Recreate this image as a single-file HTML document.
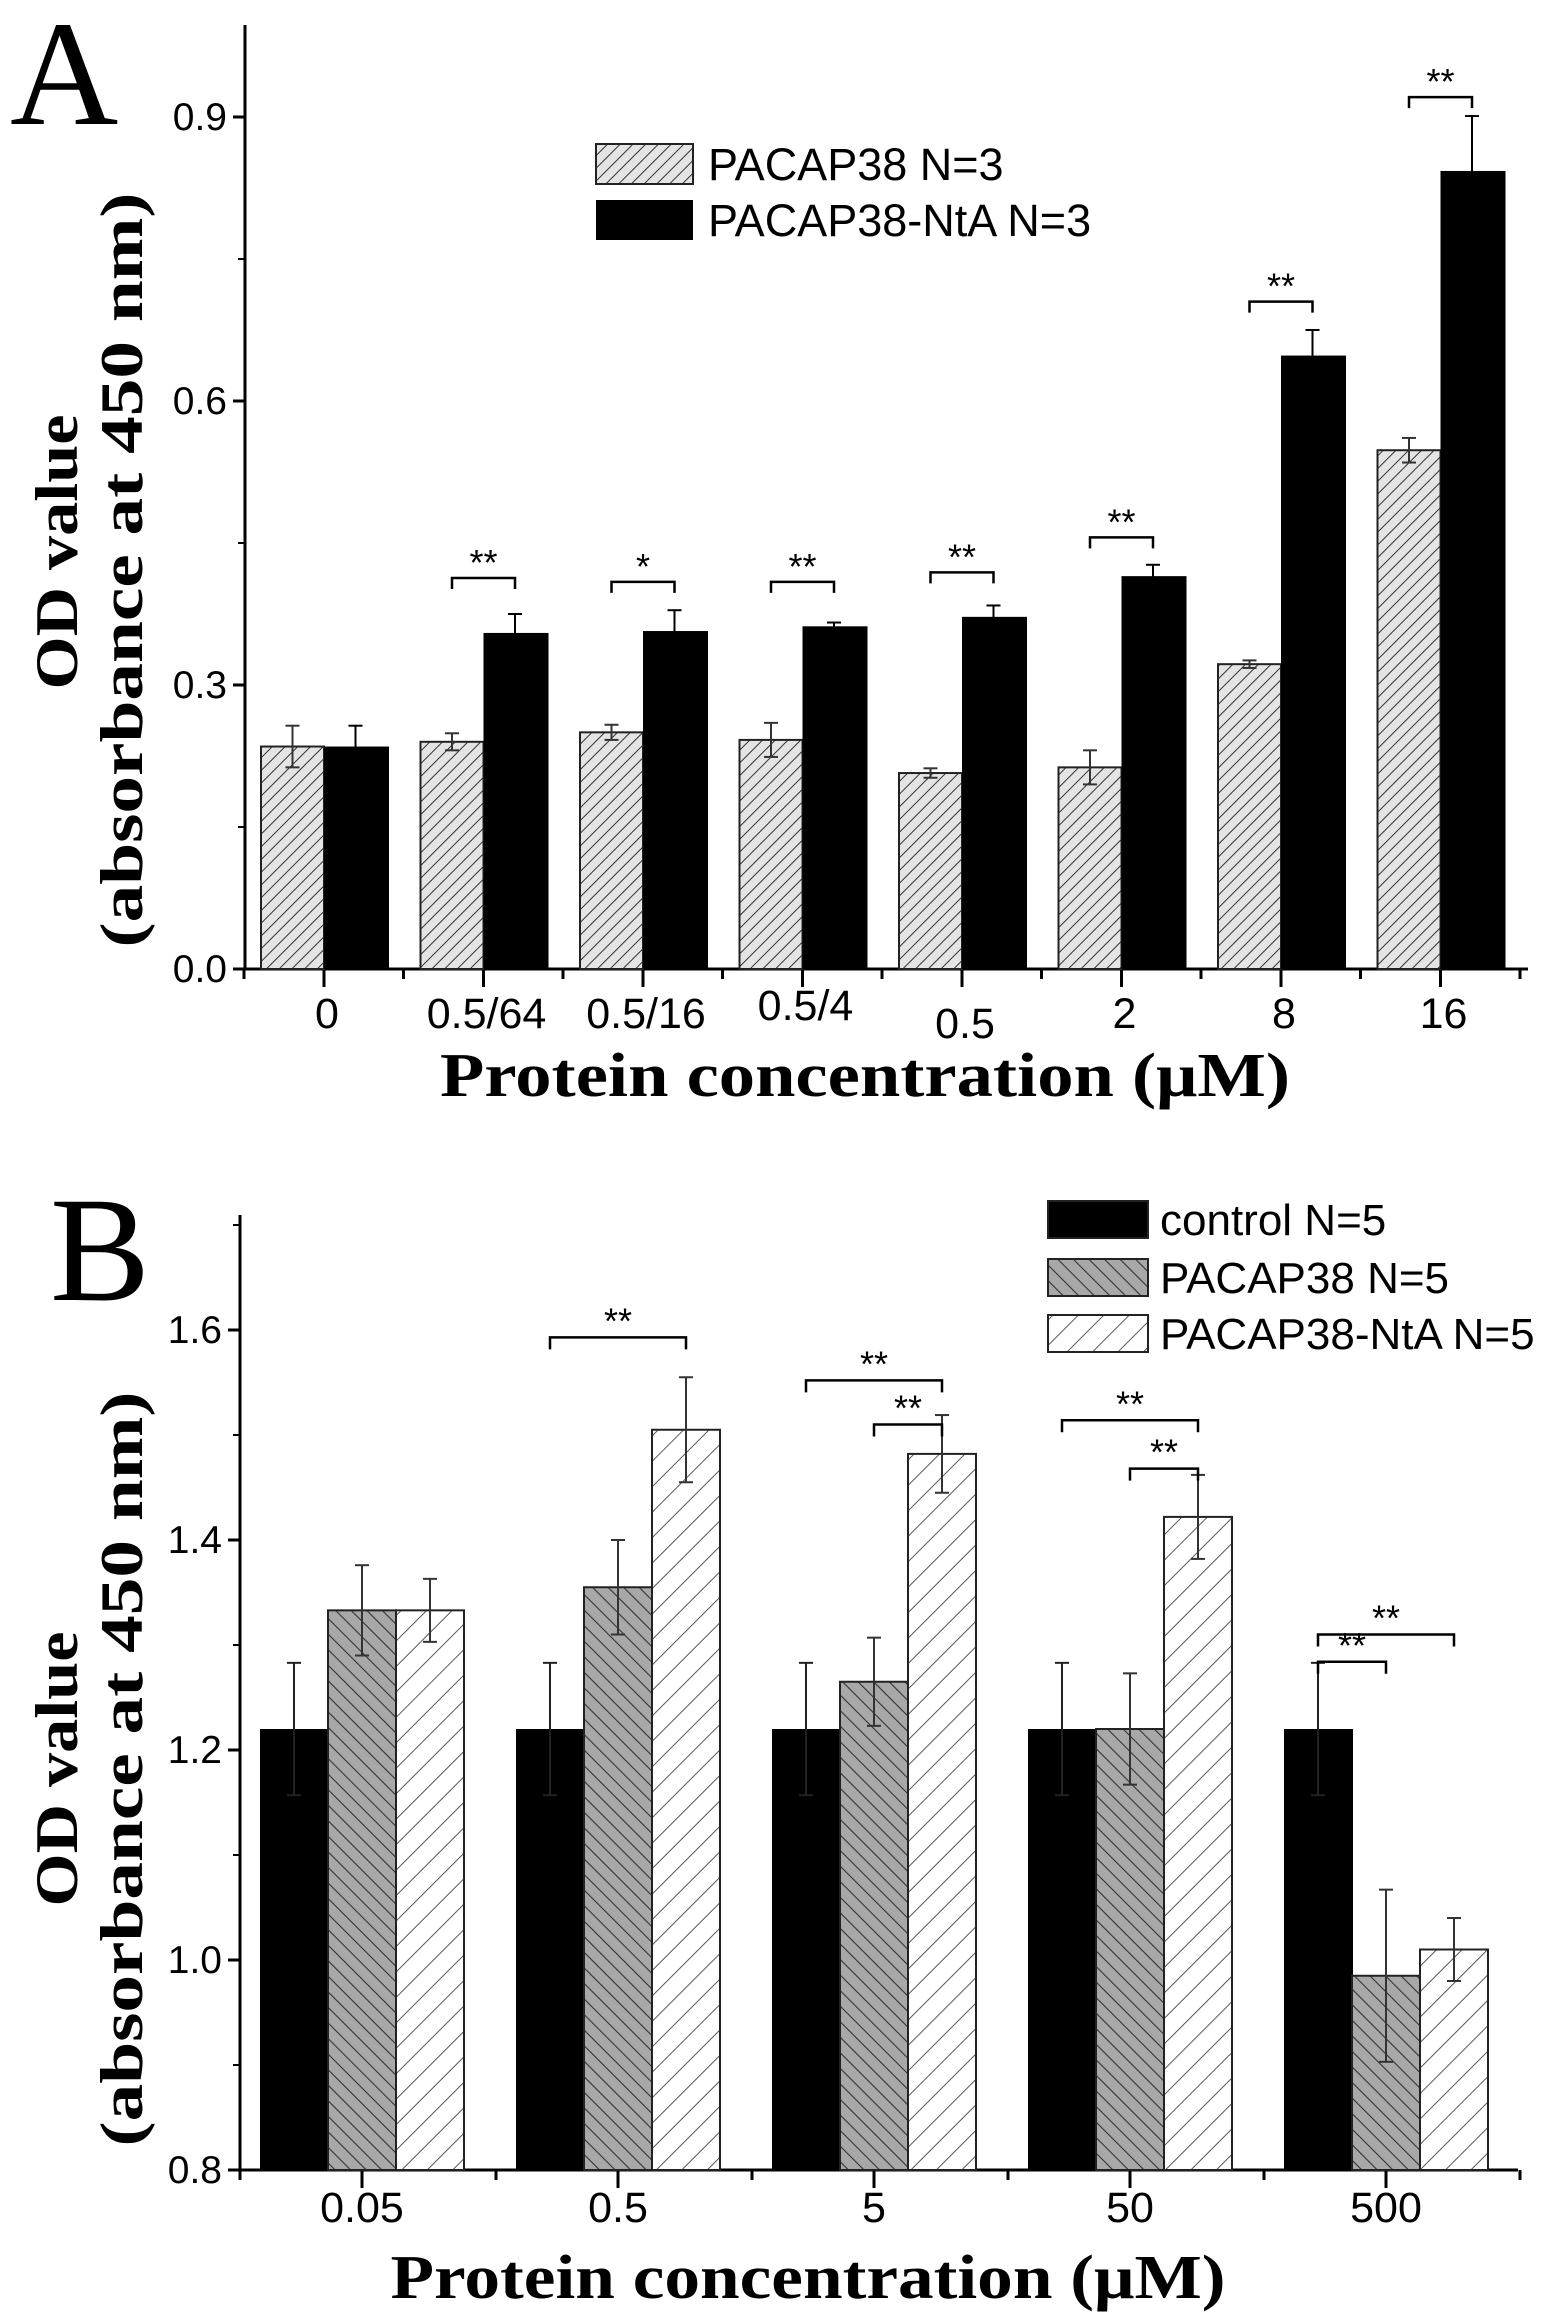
<!DOCTYPE html>
<html><head><meta charset="utf-8"><style>
html,body{margin:0;padding:0;background:#fff}
svg{display:block}
.t{font-family:"Liberation Sans",Arial,sans-serif}
.s{font-family:"Liberation Serif","Times New Roman",serif;font-weight:bold}
</style></head><body>
<svg id="fig" width="1559" height="2319" viewBox="0 0 1559 2319" xmlns="http://www.w3.org/2000/svg">
<defs>
<pattern id="hA" patternUnits="userSpaceOnUse" width="9" height="9" patternTransform="rotate(45)">
<rect width="9" height="9" fill="#e4e4e4"/><line x1="0" y1="0" x2="0" y2="9" stroke="#333" stroke-width="2"/></pattern>
<pattern id="hGray" patternUnits="userSpaceOnUse" width="11" height="11" patternTransform="rotate(-45)">
<rect width="11" height="11" fill="#a8a8a8"/><line x1="0" y1="0" x2="0" y2="11" stroke="#333" stroke-width="2.2"/></pattern>
<pattern id="hWhite" patternUnits="userSpaceOnUse" width="18" height="18" patternTransform="rotate(45)">
<rect width="18" height="18" fill="#fff"/><line x1="0" y1="0" x2="0" y2="18" stroke="#444" stroke-width="1.8"/></pattern>
</defs>
<g id="pa"></g>
<g id="pb"></g>
</svg>
<script>
// Panel A data
const catsA = ["0","0.5/64","0.5/16","0.5/4","0.5","2","8","16"];
const pacapA = [0.235,0.240,0.250,0.242,0.207,0.213,0.322,0.548];
const pacapErrA = [0.022,0.009,0.008,0.018,0.005,0.018,0.004,0.013];
const ntaA = [0.235,0.355,0.357,0.362,0.372,0.415,0.648,0.843];
const ntaErrA = [0.022,0.020,0.022,0.004,0.012,0.012,0.027,0.058];
const ticksA = [0.0,0.3,0.6,0.9];
const sigGroupA = [1,2,3,4,5,6,7];
const sigYA = [0.413,0.409,0.409,0.419,0.456,0.705,0.921];
const sigLblA = ["**","*","**","**","**","**","**"];
// Panel B data
const catsB = ["0.05","0.5","5","50","500"];
const ctrlB = [1.22,1.22,1.22,1.22,1.22];
const ctrlErrB = [0.063,0.063,0.063,0.063,0.063];
const pacapB = [1.333,1.355,1.265,1.22,0.985];
const pacapErrB = [0.043,0.045,0.042,0.053,0.082];
const ntaB = [1.333,1.505,1.482,1.422,1.01];
const ntaErrB = [0.03,0.05,0.037,0.04,0.03];
const ticksB = [0.8,1.0,1.2,1.4,1.6];
const sigGroupB = [1,2,2,3,3,4,4];
const sigFromB = [0,0,1,0,1,0,0];
const sigToB = [2,2,2,2,2,2,1];
const sigYB = [1.593,1.552,1.51,1.514,1.468,1.31,1.284];

const NS="http://www.w3.org/2000/svg";
function mk(parent,tag,attrs,txt){const e=document.createElementNS(NS,tag);for(const k in attrs)e.setAttribute(k,attrs[k]);if(txt!==undefined)e.textContent=txt;parent.appendChild(e);return e;}

// ---------- Panel A ----------
const pa=document.getElementById('pa');
const A={x0:245,x1:1528,ybase:969,ytop:25,y09:117};
function yA(v){return A.ybase-v/0.9*(A.ybase-A.y09);}
const gwA=159.5, g0A=261, bwA=63;
function bxA(i,s){return g0A+gwA*i+s*bwA;}
let el;
el=mk(pa,'line',{x1:A.x0,y1:A.ytop,x2:A.x0,y2:A.ybase,stroke:'#000','stroke-width':3});


el=mk(pa,'line',{x1:A.x0,y1:A.ybase,x2:A.x1,y2:A.ybase,stroke:'#000','stroke-width':3});


ticksA.forEach(v=>{
  const y=yA(v);
  mk(pa,'line',{x1:A.x0-12,y1:y,x2:A.x0,y2:y,stroke:'#000','stroke-width':3});
  el=mk(pa,'text',{x:A.x0-18,y:y+13,'text-anchor':'end','font-size':39,class:'t'},v.toFixed(1));
  
  
});
[0.15,0.45,0.75].forEach(v=>{const y=yA(v);mk(pa,'line',{x1:A.x0-7,y1:y,x2:A.x0,y2:y,stroke:'#000','stroke-width':2});});
catsA.forEach((c,i)=>{
  const cx=bxA(i,1);
  mk(pa,'line',{x1:cx,y1:A.ybase,x2:cx,y2:A.ybase+18,stroke:'#000','stroke-width':3});
  mk(pa,'line',{x1:g0A+gwA*i-17,y1:A.ybase,x2:g0A+gwA*i-17,y2:A.ybase+10,stroke:'#000','stroke-width':3});
  const dy = c==="0.5"?1038:(c==="0.5/4"?1020:1028);
  el=mk(pa,'text',{x:cx+3,y:dy,'text-anchor':'middle','font-size':43,class:'t'},c);
  
  
});
mk(pa,'line',{x1:g0A+gwA*8-17,y1:A.ybase,x2:g0A+gwA*8-17,y2:A.ybase+10,stroke:'#000','stroke-width':3});
function errBar(g,cx,v,e,y,col){
  mk(g,'line',{x1:cx,y1:y(v+e),x2:cx,y2:y(v-e),stroke:col,'stroke-width':2});
  mk(g,'line',{x1:cx-7,y1:y(v+e),x2:cx+7,y2:y(v+e),stroke:col,'stroke-width':2});
  mk(g,'line',{x1:cx-7,y1:y(v-e),x2:cx+7,y2:y(v-e),stroke:col,'stroke-width':2});
}
catsA.forEach((c,i)=>{
  let x=bxA(i,0),y=yA(pacapA[i]);
  el=mk(pa,'rect',{x:x,y:y,width:bwA,height:A.ybase-y,fill:'url(#hA)',stroke:'#222','stroke-width':2});
  
  
  errBar(pa,x+bwA/2,pacapA[i],pacapErrA[i],yA,'#333');
  x=bxA(i,1);y=yA(ntaA[i]);
  el=mk(pa,'rect',{x:x,y:y,width:bwA+2,height:A.ybase-y,fill:'#000'});
  
  
  errBar(pa,x+bwA/2,ntaA[i],ntaErrA[i],yA,'#000');
});
sigGroupA.forEach((g,k)=>{
  const xa=bxA(g,0)+bwA/2, xb=bxA(g,1)+bwA/2, y=yA(sigYA[k]);
  el=mk(pa,'path',{d:`M${xa},${y+11}V${y}H${xb}V${y+11}`,fill:'none',stroke:'#000','stroke-width':2.5});
  
  
  el=mk(pa,'text',{x:(xa+xb)/2,y:y-3,'text-anchor':'middle','font-size':36,class:'t'},sigLblA[k]);
  
  
});
el=mk(pa,'rect',{x:596,y:144,width:97,height:40,fill:'url(#hA)',stroke:'#222','stroke-width':2});


el=mk(pa,'text',{x:708,y:180,'font-size':45,class:'t'},'PACAP38 N=3');


el=mk(pa,'rect',{x:596,y:200,width:97,height:40,fill:'#000'});


el=mk(pa,'text',{x:708,y:236,'font-size':45,class:'t'},'PACAP38-NtA N=3');


el=mk(pa,'text',{x:10,y:124,'font-size':150,class:'s',style:'font-weight:normal'},'A');


el=mk(pa,'text',{x:865,y:1096,'text-anchor':'middle','font-size':62,class:'s',textLength:850,lengthAdjust:'spacingAndGlyphs'},'Protein concentration (μM)');


el=mk(pa,'text',{transform:'translate(77,552) rotate(-90)','text-anchor':'middle','font-size':60,class:'s',textLength:275,lengthAdjust:'spacingAndGlyphs'},'OD value');


el=mk(pa,'text',{transform:'translate(142,570) rotate(-90)','text-anchor':'middle','font-size':60,class:'s',textLength:755,lengthAdjust:'spacingAndGlyphs'},'(absorbance at 450 nm)');



// ---------- Panel B ----------
const pb=document.getElementById('pb');
const B={x0:240,x1:1518,ybase:2170,ytop:1215};
function yB(v){return B.ybase-(v-0.8)*1050;}
const gwB=256, g0B=260, bwB=68;
function bxB(i,s){return g0B+gwB*i+s*bwB;}
el=mk(pb,'line',{x1:B.x0,y1:B.ytop,x2:B.x0,y2:B.ybase,stroke:'#000','stroke-width':3});


el=mk(pb,'line',{x1:B.x0,y1:B.ybase,x2:B.x1,y2:B.ybase,stroke:'#000','stroke-width':3});


ticksB.forEach(v=>{
  const y=yB(v);
  mk(pb,'line',{x1:B.x0-12,y1:y,x2:B.x0,y2:y,stroke:'#000','stroke-width':3});
  el=mk(pb,'text',{x:B.x0-18,y:y+13,'text-anchor':'end','font-size':39,class:'t'},v.toFixed(1));
  
  
});
[0.9,1.1,1.3,1.5,1.7].forEach(v=>{const y=yB(v);mk(pb,'line',{x1:B.x0-7,y1:y,x2:B.x0,y2:y,stroke:'#000','stroke-width':2});});
catsB.forEach((c,i)=>{
  const cx=bxB(i,1)+bwB/2;
  mk(pb,'line',{x1:cx,y1:B.ybase,x2:cx,y2:B.ybase+18,stroke:'#000','stroke-width':3});
  mk(pb,'line',{x1:g0B+gwB*i-20,y1:B.ybase,x2:g0B+gwB*i-20,y2:B.ybase+10,stroke:'#000','stroke-width':3});
  el=mk(pb,'text',{x:cx,y:2222,'text-anchor':'middle','font-size':43,class:'t'},c);
  
  
});
mk(pb,'line',{x1:g0B+gwB*5-20,y1:B.ybase,x2:g0B+gwB*5-20,y2:B.ybase+10,stroke:'#000','stroke-width':3});
catsB.forEach((c,i)=>{
  let x=bxB(i,0),y=yB(ctrlB[i]);
  el=mk(pb,'rect',{x:x,y:y,width:bwB+1,height:B.ybase-y,fill:'#000'});
  
  
  errBar(pb,x+bwB/2,ctrlB[i],ctrlErrB[i],yB,'#222');
  x=bxB(i,1);y=yB(pacapB[i]);
  el=mk(pb,'rect',{x:x,y:y,width:bwB,height:B.ybase-y,fill:'url(#hGray)',stroke:'#222','stroke-width':2});
  
  
  errBar(pb,x+bwB/2,pacapB[i],pacapErrB[i],yB,'#333');
  x=bxB(i,2);y=yB(ntaB[i]);
  el=mk(pb,'rect',{x:x,y:y,width:bwB,height:B.ybase-y,fill:'url(#hWhite)',stroke:'#222','stroke-width':2});
  
  
  errBar(pb,x+bwB/2,ntaB[i],ntaErrB[i],yB,'#333');
});
sigGroupB.forEach((g,k)=>{
  const xa=bxB(g,sigFromB[k])+bwB/2, xb=bxB(g,sigToB[k])+bwB/2, y=yB(sigYB[k]);
  el=mk(pb,'path',{d:`M${xa},${y+12}V${y}H${xb}V${y+12}`,fill:'none',stroke:'#000','stroke-width':2.5});
  
  
  el=mk(pb,'text',{x:(xa+xb)/2,y:y-4,'text-anchor':'middle','font-size':36,class:'t'},'**');
  
  
});
const legB=[['#000','control N=5',1201],['url(#hGray)','PACAP38 N=5',1259],['url(#hWhite)','PACAP38-NtA N=5',1315]];
legB.forEach((l,k)=>{
  el=mk(pb,'rect',{x:1048,y:l[2],width:100,height:37,fill:l[0],stroke:'#222','stroke-width':2});
  
  
  el=mk(pb,'text',{x:1160,y:l[2]+34,'font-size':44,class:'t'},l[1]);
  
  
});
el=mk(pb,'text',{x:50,y:1300,'font-size':150,class:'s',style:'font-weight:normal'},'B');


el=mk(pb,'text',{x:808,y:2298,'text-anchor':'middle','font-size':62,class:'s',textLength:835,lengthAdjust:'spacingAndGlyphs'},'Protein concentration (μM)');


el=mk(pb,'text',{transform:'translate(77,1769) rotate(-90)','text-anchor':'middle','font-size':60,class:'s',textLength:275,lengthAdjust:'spacingAndGlyphs'},'OD value');


el=mk(pb,'text',{transform:'translate(142,1769) rotate(-90)','text-anchor':'middle','font-size':60,class:'s',textLength:755,lengthAdjust:'spacingAndGlyphs'},'(absorbance at 450 nm)');


</script>
</body></html>
